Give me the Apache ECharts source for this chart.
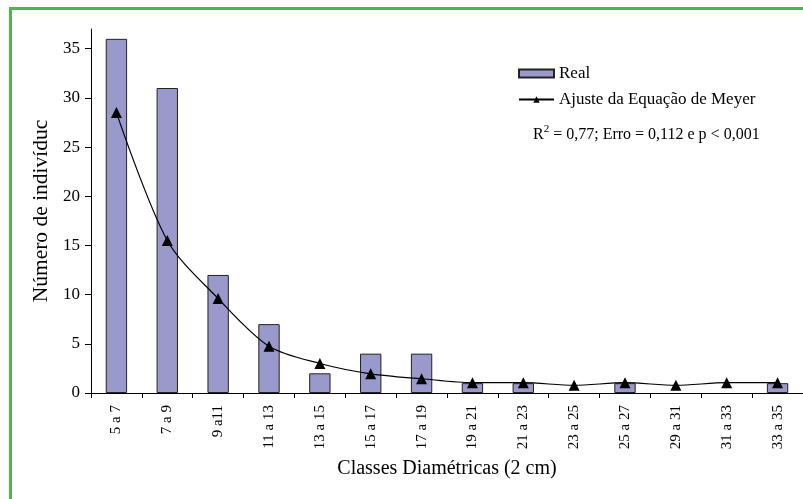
<!DOCTYPE html>
<html>
<head>
<meta charset="utf-8">
<script src="https://cdn.jsdelivr.net/npm/echarts@6/dist/echarts.min.js"></script>
<style>
html,body{margin:0;padding:0;background:#fff;}
#c{width:803px;height:499px;}
</style>
</head>
<body>
<div id="c"></div>
<script>
var categories = ['5 a 7','7 a 9','9 a11','11 a 13','13 a 15','15 a 17','17 a 19','19 a 21','21 a 23','23 a 25','25 a 27','29 a 31','31 a 33','33 a 35'];
var realValues = [36, 31, 12, 7, 2, 4, 4, 1, 1, null, 1, null, null, 1];
var meyerValues = [28.5, 15.5, 9.6, 4.75, 3.0, 1.95, 1.45, 1.05, 1.05, 0.78, 1.05, 0.78, 1.05, 1.05];
var yTicks = [0, 5, 10, 15, 20, 25, 30, 35];

var FONT = "Liberation Serif";
var legendText = {
  fontFamily: FONT, fontSize: 17, color: '#000',
  rich: {t: {fontFamily: FONT, fontSize: 17, color: '#000'}}
};
var chart = echarts.init(document.getElementById('c'), null, {renderer: 'canvas'});
chart.setOption({
  animation: false,
  backgroundColor: '#fff',
  textStyle: {fontFamily: FONT, color: '#000'},
  grid: {left: 91, top: 29, width: 718, height: 364},
  legend: {
    orient: 'vertical',
    left: 518,
    top: 65,
    padding: 0,
    itemWidth: 35,
    itemHeight: 8,
    itemGap: 9,
    textStyle: legendText,
    formatter: function (name) { return '{t|' + name + '}'; },
    data: [
      {name: 'Real', icon: 'rect'},
      {name: 'Ajuste da Equação de Meyer'}
    ]
  },
  xAxis: {
    type: 'category',
    data: categories,
    name: 'Classes Diamétricas (2 cm)',
    nameLocation: 'middle',
    nameGap: 66,
    nameTextStyle: {fontFamily: FONT, fontSize: 20, color: '#000'},
    axisLine: {lineStyle: {color: '#000', width: 1}},
    axisTick: {show: true, length: 5, lineStyle: {color: '#000'}},
    axisLabel: {rotate: 90, margin: 12, fontFamily: FONT, fontSize: 15, color: '#000', interval: 0}
  },
  yAxis: {
    type: 'value',
    min: 0,
    max: 37,
    interval: 5,
    name: 'Número de indivíduc',
    nameLocation: 'middle',
    nameGap: 38,
    nameTextStyle: {fontFamily: FONT, fontSize: 21.5, color: '#000'},
    splitLine: {show: false},
    axisLine: {show: true, lineStyle: {color: '#000', width: 1}},
    axisTick: {show: true, length: 6, lineStyle: {color: '#000'}, customValues: yTicks},
    axisLabel: {margin: 11, fontFamily: FONT, fontSize: 17, color: '#000', customValues: yTicks}
  },
  series: [
    {
      name: 'Real',
      type: 'bar',
      data: realValues,
      barWidth: '42%',
      itemStyle: {color: '#9999cc', borderColor: '#222', borderWidth: 1}
    },
    {
      name: 'Ajuste da Equação de Meyer',
      type: 'line',
      data: meyerValues,
      smooth: 0.3,
      symbol: 'triangle',
      symbolSize: 11,
      lineStyle: {color: '#000', width: 1.2},
      itemStyle: {color: '#000'}
    }
  ],
  graphic: [
    {
      type: 'rect',
      silent: true,
      shape: {x: 10.5, y: 8.5, width: 900, height: 600},
      style: {fill: 'none', stroke: '#4cb84c', lineWidth: 3}
    },
    {
      type: 'text',
      left: 533,
      top: 124,
      style: {
        text: '{a|R}{s|2}{a| = 0,77; Erro = 0,112 e p < 0,001}',
        rich: {
          a: {fontFamily: FONT, fontSize: 16, fill: '#000', verticalAlign: 'bottom'},
          s: {fontFamily: FONT, fontSize: 11, fill: '#000', verticalAlign: 'top', padding: [0,0,8,0]}
        }
      }
    }
  ]
});
</script>
</body>
</html>
